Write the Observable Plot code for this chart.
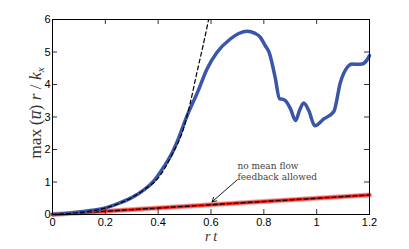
<!DOCTYPE html>
<html><head><meta charset="utf-8">
<script src="https://cdn.jsdelivr.net/npm/d3@7"></script>
<script src="https://cdn.jsdelivr.net/npm/@observablehq/plot@0.6"></script>
<style>body{margin:0;background:#fff}</style>
</head><body><div id="chart"></div>
<script>
const xTicks = [0, 0.2, 0.4, 0.6, 0.8, 1, 1.2];
const yTicks = [0, 1, 2, 3, 4, 5, 6];
const blueT = [0, 0.05, 0.1, 0.15, 0.2, 0.25, 0.3, 0.35, 0.38, 0.42, 0.45, 0.47, 0.51, 0.55, 0.585, 0.623, 0.673, 0.705, 0.737, 0.765, 0.787, 0.805, 0.82, 0.844, 0.859, 0.87, 0.882, 0.901, 0.92, 0.935, 0.951, 0.97, 0.993, 1.027, 1.065, 1.09, 1.116, 1.134, 1.15, 1.172, 1.19, 1.2];
const blueV = [0, 0.03, 0.08, 0.13, 0.2, 0.34, 0.52, 0.78, 1.0, 1.45, 1.85, 2.2, 3.05, 3.78, 4.48, 4.99, 5.40, 5.57, 5.64, 5.58, 5.45, 5.2, 4.99, 4.17, 3.56, 3.55, 3.5, 3.25, 2.89, 3.2, 3.43, 3.2, 2.73, 2.94, 3.17, 4.07, 4.53, 4.63, 4.62, 4.63, 4.75, 4.89];
const expT = [0, 0.1, 0.2, 0.3, 0.35, 0.4, 0.45, 0.5, 0.522, 0.547, 0.57, 0.591];
const expV = [0, 0.06, 0.2, 0.52, 0.78, 1.12, 1.8, 2.75, 3.45, 4.38, 5.2, 6.0];
const redT = [0, 1.2];
const redV = [0, 0.6];
const noteText = "no mean flow\nfeedback allowed";
const notePos = [0.70, 1.34];
const arrowFrom = [0.70, 1.07];
const arrowTo = [0.604, 0.39];

const W = 409, H = 249;
const mt = 19, mr = 40, mb = 35, ml = 52;
const pw = W - ml - mr, ph = H - mt - mb;
const blue = blueT.map((t, i) => ({t, v: blueV[i]}));
const expo = expT.map((t, i) => ({t, v: expV[i]}));
const red = redT.map((t, i) => ({t, v: redV[i]}));

const chart = Plot.plot({
  width: W, height: H,
  marginTop: mt, marginRight: mr, marginBottom: mb, marginLeft: ml,
  x: {domain: [0, 1.2]},
  y: {domain: [0, 6]},
  style: {fontFamily: "Liberation Sans, Arial, sans-serif", fontSize: "11px", color: "#000", background: "#fff"},
  marks: [
    Plot.line(red, {x: "t", y: "v", stroke: "#f4a0a0", strokeWidth: 5}),
    Plot.line(red, {x: "t", y: "v", stroke: "#e8231e", strokeWidth: 3}),
    Plot.line(red, {x: "t", y: "v", stroke: "#000", strokeWidth: 1.2, strokeDasharray: "4,3"}),
    Plot.line(blue, {x: "t", y: "v", stroke: "#3a56a8", strokeWidth: 3.5, curve: "monotone-x"}),
    Plot.line(expo, {x: "t", y: "v", stroke: "#000", strokeWidth: 1.2, strokeDasharray: "4,3", curve: "monotone-x"}),
    Plot.tickX(xTicks, {x: d => d, insetTop: ph - 5, stroke: "#333"}),
    Plot.tickX(xTicks, {x: d => d, insetBottom: ph - 5, stroke: "#333"}),
    Plot.tickY(yTicks, {y: d => d, insetRight: pw - 5, stroke: "#333"}),
    Plot.tickY(yTicks, {y: d => d, insetLeft: pw - 5, stroke: "#333"}),
    Plot.frame({stroke: "#000"}),
    Plot.axisX({ticks: xTicks, tickSize: 0, tickPadding: 4, tickFormat: d => String(d), label: null}),
    Plot.axisY({ticks: yTicks, tickSize: 0, tickPadding: 2, tickFormat: d => String(d), label: null}),
    Plot.arrow([0], {x1: () => arrowFrom[0], y1: () => arrowFrom[1], x2: () => arrowTo[0], y2: () => arrowTo[1], stroke: "#000", strokeWidth: 0.9, headLength: 8}),
    Plot.text([noteText], {x: () => notePos[0], y: () => notePos[1], text: d => d, textAnchor: "start", fontFamily: "DejaVu Serif, serif", fontSize: 9, lineHeight: 1.22, fill: "#444", letterSpacing: "1.8px"}),
    Plot.text(["r t"], {frameAnchor: "bottom", dy: 26, text: d => d, fontFamily: "Liberation Serif, serif", fontStyle: "italic", fontSize: 14, fill: "#333"}),
    Plot.text(["ylab"], {frameAnchor: "left", textAnchor: "middle", dx: -17, dy: -4, rotate: -90, text: d => d, fontFamily: "Liberation Serif, serif", fontSize: 17.5, fill: "#333"})
  ]
});
document.getElementById("chart").appendChild(chart);
// rich formatting for y label
d3.select(chart).selectAll("text").filter(function(){ return this.textContent === "ylab"; }).each(function(){
  const t = d3.select(this);
  t.text(null);
  t.append("tspan").text("max\u2009(");
  t.append("tspan").attr("font-style", "italic").text("u\u0305");
  t.append("tspan").text(") ");
  t.append("tspan").attr("font-style", "italic").text("r");
  t.append("tspan").text(" / ");
  t.append("tspan").attr("font-style", "italic").text("k");
  t.append("tspan").attr("font-style", "italic").attr("font-size", 11).attr("dy", "0.3em").text("x");
});
d3.select(chart).selectAll("text").filter(function(){ return this.textContent === "r t"; }).each(function(){
  const t = d3.select(this);
  t.text(null);
  t.append("tspan").text("r\u2009t");
});
</script></body></html>
